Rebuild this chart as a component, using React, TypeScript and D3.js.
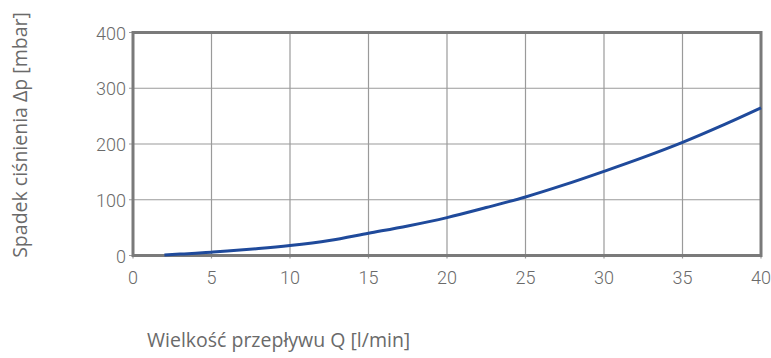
import React from "react";
import * as d3 from "d3";

const flow = [2, 3, 4, 5, 6, 8, 10, 12.5, 15, 17.5, 20, 22.5, 25, 27.5, 30, 32.5, 35, 37.5, 40];
const pressureDrop = [1, 2.5, 4, 6, 8, 12.5, 18, 27, 40, 53, 68, 86, 105, 127, 151, 176, 203, 233, 265];
const xTicks = [0, 5, 10, 15, 20, 25, 30, 35, 40];
const yTicks = [0, 100, 200, 300, 400];
const xTitle = "Wielkość przepływu Q [l/min]";
const yTitle = "Spadek ciśnienia Δp [mbar]";

const W = 771;
const H = 358;
const L = 133;
const R = 761;
const T = 32.5;
const B = 255.5;

export default function App() {
  const x = d3.scaleLinear().domain([0, 40]).range([L, R]);
  const y = d3.scaleLinear().domain([0, 400]).range([B, T]);
  const pts: [number, number][] = flow.map((q, i) => [q, pressureDrop[i]]);
  const line = d3
    .line<[number, number]>()
    .x((d) => x(d[0]))
    .y((d) => y(d[1]))
    .curve(d3.curveMonotoneX);
  const font = "Roboto, 'DejaVu Sans', sans-serif";
  const titleFont = "'Open Sans', 'DejaVu Sans', sans-serif";
  const txt = "#6a6a6a";
  return (
    <svg
      width={W}
      height={H}
      style={{ position: "absolute", left: 0, top: 0, background: "#fff" }}
      fontFamily={font}
    >
      {xTicks.map((t) => (
        <line key={"gx" + t} x1={x(t)} x2={x(t)} y1={T} y2={B + 3} stroke="#9a9a9a" strokeWidth={1.2} />
      ))}
      {yTicks.map((t) => (
        <line key={"gy" + t} x1={L - 4} x2={R} y1={y(t)} y2={y(t)} stroke="#9a9a9a" strokeWidth={1.2} />
      ))}
      <rect x={L} y={T} width={R - L} height={B - T} fill="none" stroke="#7a7a7a" strokeWidth={3} />
      <path d={line(pts) || ""} fill="none" stroke="#1f4a9b" strokeWidth={3} strokeLinecap="butt" />
      {yTicks.map((t) => (
        <text key={"ty" + t} x={L - 7} y={y(t) + 7} textAnchor="end" fontSize={18} fontWeight={300} fill={txt}>
          {t}
        </text>
      ))}
      {xTicks.map((t) => (
        <text key={"tx" + t} x={x(t)} y={284} textAnchor="middle" fontSize={18} fontWeight={300} fill={txt}>
          {t}
        </text>
      ))}
      <text x={147} y={347} fontSize={19.5} fontFamily={titleFont} fontWeight={400} fill={txt}>
        {xTitle}
      </text>
      <text
        transform={`translate(27, ${135}) rotate(-90)`}
        textAnchor="middle"
        fontSize={19.5}
        fontFamily={titleFont}
        fontWeight={400}
        fill={txt}
      >
        {yTitle}
      </text>
    </svg>
  );
}
